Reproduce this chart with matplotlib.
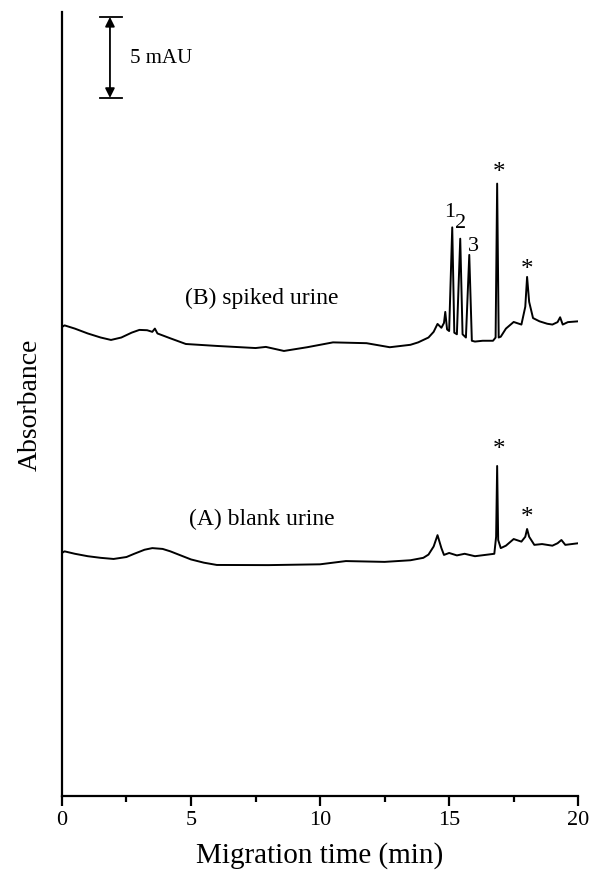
import numpy as np
import matplotlib
matplotlib.use('Agg')
import matplotlib.pyplot as plt

plt.rcParams['font.family'] = ['Liberation Serif', 'DejaVu Serif']

# trace (B) spiked urine (mAU, offset included)
t_b = [0, 0.1, 0.5, 1.0, 1.5, 1.9, 2.3, 2.7, 3.0, 3.3, 3.5, 3.6, 3.7, 4.2, 4.8, 6.0, 7.5, 7.9,
       8.6, 9.5, 10.5, 11.8, 12.7, 13.5, 13.8, 14.2, 14.4, 14.55, 14.7, 14.8, 14.85, 14.92, 15.0,
       15.12, 15.2, 15.3, 15.43, 15.52, 15.65, 15.78, 15.88, 16.0, 16.3, 16.7, 16.8, 16.86, 16.92,
       17.0, 17.2, 17.5, 17.8, 17.95, 18.02, 18.1, 18.25, 18.5, 18.8, 19.0, 19.2, 19.3, 19.4,
       19.6, 20.0]
y_b = [28.95, 29.05, 28.85, 28.55, 28.3, 28.15, 28.3, 28.6, 28.77, 28.75, 28.65, 28.85, 28.55,
       28.25, 27.9, 27.78, 27.65, 27.72, 27.47, 27.7, 28.0, 27.95, 27.7, 27.85, 28.0, 28.3, 28.65,
       29.14, 28.9, 29.2, 29.88, 28.8, 28.7, 35.1, 28.6, 28.5, 34.4, 28.5, 28.3, 33.4, 28.1, 28.05,
       28.1, 28.1, 28.3, 37.8, 28.3, 28.35, 28.85, 29.26, 29.1, 30.2, 32.04, 30.5, 29.5, 29.3,
       29.15, 29.1, 29.25, 29.55, 29.1, 29.25, 29.3]

# trace (A) blank urine
t_a = [0, 0.1, 0.5, 1.0, 1.5, 2.0, 2.5, 2.8, 3.2, 3.5, 3.9, 4.2, 4.6, 5.0, 5.5, 6.0, 8.0, 10.0,
       11.0, 12.5, 13.5, 14.0, 14.2, 14.4, 14.55, 14.7, 14.8, 15.0, 15.3, 15.6, 16.0, 16.5, 16.75,
       16.82, 16.86, 16.9, 17.0, 17.2, 17.5, 17.8, 17.95, 18.02, 18.1, 18.3, 18.6, 19.0, 19.2,
       19.35, 19.5, 20.0]
y_a = [15.0, 15.1, 14.95, 14.8, 14.7, 14.63, 14.75, 14.95, 15.2, 15.3, 15.25, 15.1, 14.85, 14.6,
       14.4, 14.26, 14.25, 14.3, 14.5, 14.45, 14.55, 14.7, 14.9, 15.4, 16.1, 15.3, 14.88, 15.0,
       14.85, 14.95, 14.8, 14.9, 14.95, 16.0, 20.37, 15.8, 15.3, 15.45, 15.86, 15.7, 16.0, 16.48,
       16.0, 15.5, 15.55, 15.45, 15.6, 15.8, 15.5, 15.6]

fig = plt.figure(figsize=(5.9, 8.78), dpi=100)
ax = fig.add_axes([0.105, 0.0923, 0.875, 0.893])
ax.plot(t_b, y_b, color='black', lw=1.4)
ax.plot(t_a, y_a, color='black', lw=1.4)

ax.set_xlim(0, 20)
ax.set_ylim(0, 48.4)
ax.spines['top'].set_visible(False)
ax.spines['right'].set_visible(False)
ax.spines['left'].set_linewidth(1.6)
ax.spines['bottom'].set_linewidth(1.6)
ax.set_yticks([])
ax.set_xticks([0, 5, 10, 15, 20])
ax.set_xticks([2.5, 7.5, 12.5, 17.5], minor=True)
ax.tick_params(axis='x', which='major', length=7, width=1.6, labelsize=16, pad=3)
ax.tick_params(axis='x', which='minor', length=4, width=1.6)
ax.set_xlabel('Migration time (min)', fontsize=21, labelpad=9)
ax.set_ylabel('Absorbance', fontsize=20, labelpad=14)

# scale bar
ax.annotate('', xy=(1.86, 48.09), xytext=(1.86, 43.09),
            arrowprops=dict(arrowstyle='<|-|>', color='black', lw=1.3, mutation_scale=14,
                            shrinkA=0, shrinkB=0))
ax.plot([1.47, 2.33], [48.09, 48.09], color='black', lw=1.3)
ax.plot([1.47, 2.33], [43.09, 43.09], color='black', lw=1.3)
ax.text(2.64, 45.6, '5 mAU', fontsize=15, va='center', ha='left')

ax.text(7.75, 30.8, '(B) spiked urine', fontsize=17, ha='center', va='center')
ax.text(7.75, 17.16, '(A) blank urine', fontsize=17, ha='center', va='center')

ax.text(15.04, 36.05, '1', fontsize=16, ha='center', va='center')
ax.text(15.43, 35.37, '2', fontsize=16, ha='center', va='center')
ax.text(15.93, 33.95, '3', fontsize=16, ha='center', va='center')
for tx, ty in [(16.94, 38.5), (18.02, 32.5), (16.94, 21.4), (18.02, 17.2)]:
    ax.text(tx, ty, '*', fontsize=18, ha='center', va='center')

fig.savefig('out.png', dpi=100)
